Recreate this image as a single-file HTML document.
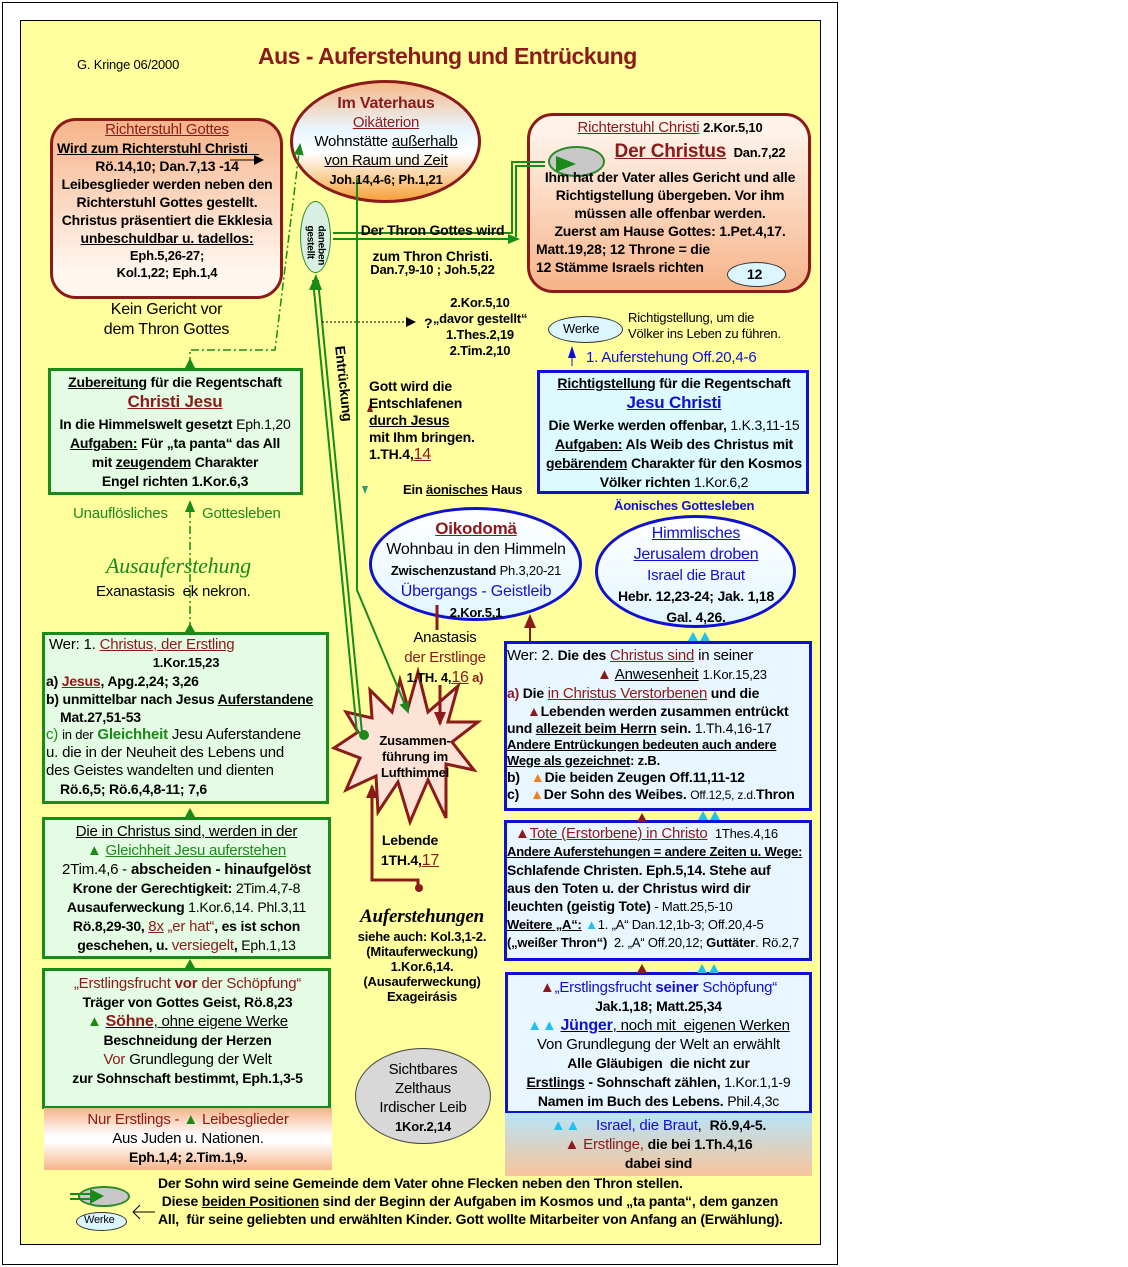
<!DOCTYPE html>
<html><head><meta charset="utf-8"><style>
body{margin:0;width:1128px;height:1267px;background:#fff;position:relative;font-family:"Liberation Sans",sans-serif;font-size:14px;letter-spacing:-0.2px;color:#000;overflow:hidden}
.a{position:absolute}
.c{text-align:center}
.b{font-weight:bold}
.r{color:#8b1a1a}
.bl{color:#1010d0}
.g{color:#1a8a1a}
u{text-decoration:underline}
.box{position:absolute;box-sizing:border-box}
.t{position:absolute;line-height:18px;white-space:nowrap}
</style></head><body>
<div class="a" style="left:2px;top:2px;width:836px;height:1263px;border:1px solid #000;box-sizing:border-box"></div>
<div class="a" style="left:20px;top:20px;width:801px;height:1225px;border:1px solid #000;background:#ffff9e;box-sizing:border-box"></div>

<div class="box" style="left:50px;top:118px;width:233px;height:181px;border:3px solid #8b1a1a;border-radius:26px;background:linear-gradient(#f6b48a,#fff6ee 85%)"></div>
<div class="box" style="left:290px;top:80px;width:191px;height:123px;border:3px solid #8b1a1a;border-radius:50%;background:linear-gradient(#f7b98a,#e8f6ff 40%,#fff 60%,#f6a23a)"></div>
<div class="box" style="left:527px;top:113px;width:284px;height:180px;border:3px solid #8b1a1a;border-radius:26px;background:linear-gradient(#fff2e8 10%,#f6b48a)"></div>
<div class="box" style="left:300px;top:201px;width:31px;height:72px;border:1px solid #2a8a2a;border-radius:50%;background:#d8f0e4"></div>
<div class="box" style="left:48px;top:368px;width:255px;height:127px;border:3px solid #1a8a1a;background:#e4fbe4"></div>
<div class="box" style="left:537px;top:370px;width:272px;height:124px;border:3px solid #1010d0;background:#dcfaff"></div>
<div class="box" style="left:369px;top:507px;width:213px;height:114px;border:3px solid #1010d0;border-radius:50%;background:linear-gradient(#fff,#e2f6ff)"></div>
<div class="box" style="left:595px;top:515px;width:201px;height:113px;border:3px solid #1010d0;border-radius:50%;background:linear-gradient(#fff,#e2f6ff)"></div>
<div class="box" style="left:42px;top:632px;width:287px;height:172px;border:3px solid #1a8a1a;background:#e4fbe4"></div>
<div class="box" style="left:504px;top:641px;width:308px;height:170px;border:3px solid #1010d0;background:#e8f6ff"></div>
<div class="box" style="left:42px;top:817px;width:289px;height:142px;border:3px solid #1a8a1a;background:#e4fbe4"></div>
<div class="box" style="left:504px;top:820px;width:308px;height:141px;border:3px solid #1010d0;background:#e8f6ff"></div>
<div class="box" style="left:42px;top:968px;width:289px;height:141px;border:3px solid #1a8a1a;background:#e4fbe4"></div>
<div class="box" style="left:505px;top:972px;width:307px;height:142px;border:3px solid #1010d0;background:#e8f6ff"></div>
<div class="box" style="left:44px;top:1108px;width:288px;height:62px;background:linear-gradient(#f6b48a,#fff 45%,#fff 55%,#f6b48a)"></div>
<div class="box" style="left:505px;top:1113px;width:307px;height:63px;background:linear-gradient(#b8e4f8,#f6c49a)"></div>
<div class="box" style="left:355px;top:1048px;width:136px;height:96px;border:1px solid #444;border-radius:50%;background:#d8d8d8"></div>
<div class="box" style="left:548px;top:316px;width:75px;height:27px;border:1px solid #333;border-radius:50%;background:#dcf6ff"></div>
<div class="box" style="left:727px;top:262px;width:59px;height:25px;border:1px solid #333;border-radius:50%;background:#dcf6ff"></div>
<div class="box" style="left:548px;top:146px;width:57px;height:31px;border:2px solid #2a8a2a;border-radius:50%;background:#c8c8c8"></div>
<div class="box" style="left:78px;top:1186px;width:52px;height:21px;border:2px solid #2a8a2a;border-radius:50%;background:#c8c8c8"></div>
<div class="box" style="left:76px;top:1212px;width:51px;height:19px;border:1px solid #333;border-radius:50%;background:#dcf6ff"></div>

<svg class="a" style="left:0;top:0" width="1128" height="1267">
<defs>
<marker id="ga" markerUnits="userSpaceOnUse" markerWidth="12" markerHeight="12" refX="10" refY="6" orient="auto"><path d="M0,1L12,6L0,11z" fill="#1a8a1a"/></marker>
<marker id="ka" markerUnits="userSpaceOnUse" markerWidth="10" markerHeight="10" refX="8" refY="5" orient="auto"><path d="M0,0L10,5L0,10z" fill="#000"/></marker>
<marker id="ra" markerUnits="userSpaceOnUse" markerWidth="14" markerHeight="14" refX="12" refY="7" orient="auto"><path d="M0,1L14,7L0,13z" fill="#8b1a1a"/></marker>
</defs>
<polygon points="418,672 428,712 458,686 448,722 478,722 452,742 474,770 446,764 446,818 428,780 410,822 398,782 378,812 376,776 346,790 360,758 334,748 358,732 346,712 372,718 370,690 392,712 400,680 408,708" fill="#fde2d6" stroke="#8b1a1a" stroke-width="3"/>
<polyline points="357,178 357,590 408,712" fill="none" stroke="#1a8a1a" stroke-width="2" marker-end="url(#ga)"/>
<line x1="318" y1="280" x2="362" y2="733" stroke="#1a8a1a" stroke-width="2"/>
<line x1="313" y1="280" x2="357" y2="733" stroke="#1a8a1a" stroke-width="2"/>
<path d="M309,290L316,274L322,290z" fill="#1a8a1a"/>
<circle cx="364" cy="735" r="5" fill="#1a8a1a"/>
<polyline points="333,233 512,233 512,162 545,162" fill="none" stroke="#1a8a1a" stroke-width="2"/>
<polyline points="333,239 518,239" fill="none" stroke="#1a8a1a" stroke-width="2" marker-end="url(#ga)"/>
<polyline points="516,237 516,166 545,166" fill="none" stroke="#1a8a1a" stroke-width="2"/>
<path d="M556,156L576,164L556,172z" fill="#1a8a1a"/>
<line x1="70" y1="1194" x2="92" y2="1194" stroke="#1a8a1a" stroke-width="2"/><line x1="70" y1="1199" x2="92" y2="1199" stroke="#1a8a1a" stroke-width="2"/>
<path d="M90,1189L104,1196L90,1204z" fill="#1a8a1a"/>
<polyline points="190,365 190,350 275,350 300,145" fill="none" stroke="#1a8a1a" stroke-width="1.5" stroke-dasharray="8,3,2,3" marker-end="url(#ga)"/>
<line x1="190" y1="630" x2="190" y2="502" stroke="#1a8a1a" stroke-width="1.5" stroke-dasharray="8,3,2,3" marker-end="url(#ga)"/>
<path d="M185,632L190,623L195,632z M185,968L190,959L195,968z M185,817L190,808L195,817z M185,368L190,358L195,368z" fill="#1a8a1a"/>
<line x1="322" y1="322" x2="414" y2="322" stroke="#000" stroke-width="1" stroke-dasharray="2,2" marker-end="url(#ka)"/>
<line x1="230" y1="160" x2="262" y2="160" stroke="#000" stroke-width="1" marker-end="url(#ka)"/>
<line x1="155" y1="1212" x2="134" y2="1212" stroke="#000" stroke-width="1"/><path d="M140,1205L133,1212L140,1219" fill="none" stroke="#000"/>
<line x1="437" y1="605" x2="437" y2="630" stroke="#8b1a1a" stroke-width="3"/>
<line x1="440" y1="685" x2="440" y2="724" stroke="#8b1a1a" stroke-width="3" marker-end="url(#ra)"/>
<polyline points="418,888 418,880 372,880 372,786" fill="none" stroke="#8b1a1a" stroke-width="3" marker-end="url(#ra)"/>
<circle cx="419" cy="888" r="4" fill="#8b1a1a"/>
<line x1="530" y1="641" x2="530" y2="616" stroke="#8b1a1a" stroke-width="2" marker-end="url(#ra)"/>
<path d="M568,358L572,346L576,358z" fill="#1010d0"/>
<line x1="572" y1="358" x2="572" y2="366" stroke="#1010d0" stroke-width="1"/>
<path d="M362,486L368,486L365,494z" fill="#2a9a7a"/>
<path d="M367,412L373,412L370,404z" fill="#8b1a1a"/>
<g fill="#8b1a1a"><path d="M637,822L642,813L647,822z M637,973L642,964L647,973z"/></g>
<g fill="#20c0f0"><path d="M688,641L693,632L698,641z M700,641L705,632L710,641z M698,820L703,811L708,820z M710,820L715,811L720,820z M697,973L702,964L707,973z M709,973L714,964L719,973z"/></g>
</svg>

<div class="a" style="left:77px;top:57px;font-size:13px">G. Kringe 06/2000</div>
<div class="a b r" style="left:258px;top:43px;font-size:23px;letter-spacing:-0.5px">Aus - Auferstehung und Entrückung</div>

<div class="t c b" style="left:53px;top:121px;width:228px">
<div class="r" style="font-size:15px;font-weight:normal"><u>Richterstuhl Gottes</u></div>
<div style="text-align:left;padding-left:4px"><u>Wird zum Richterstuhl Christi&nbsp;&nbsp;&nbsp;</u></div>
<div>Rö.14,10; Dan.7,13 -14</div>
<div>Leibesglieder werden neben den</div>
<div>Richterstuhl Gottes gestellt.</div>
<div>Christus präsentiert die Ekklesia</div>
<div><u>unbeschuldbar u. tadellos:</u></div>
<div style="font-size:13px;line-height:17px">Eph.5,26-27;<br>Kol.1,22; Eph.1,4</div></div>
<div class="t c" style="left:50px;top:300px;width:233px;font-size:16px;line-height:20px">Kein Gericht vor<br>dem Thron Gottes</div>

<div class="t c" style="left:292px;top:94px;width:188px;line-height:19px">
<div class="b r" style="font-size:16px">Im Vaterhaus</div>
<div class="r" style="font-size:15px"><u>Oikäterion</u></div>
<div style="font-size:15px">Wohnstätte <u>außerhalb</u></div>
<div style="font-size:15px"><u>von Raum und Zeit</u></div>
<div class="b" style="font-size:13px">Joh.14,4-6; Ph.1,21</div></div>
<div class="a b" style="left:300px;top:230px;width:31px;font-size:10px;line-height:11px;text-align:center;transform:rotate(90deg)">daneben<br>gestellt</div>

<div class="t c b" style="left:355px;top:217px;width:155px;line-height:26px">Der Thron Gottes wird<br>zum Thron Christi.</div>
<div class="t c b" style="left:355px;top:261px;width:155px;font-size:13px">Dan.7,9-10 ; Joh.5,22</div>

<div class="t c b" style="left:530px;top:118px;width:280px;line-height:18px">
<div><span class="r" style="font-size:15px;font-weight:normal"><u>Richterstuhl Christi</u></span> <span style="font-size:13px">2.Kor.5,10</span></div>
<div style="padding-left:60px;margin-top:6px"><span class="r" style="font-size:19px"><u>Der Christus</u></span> &nbsp;<span style="font-size:13px">Dan.7,22</span></div>
<div style="margin-top:6px">Ihm hat der Vater alles Gericht und alle</div>
<div>Richtigstellung übergeben. Vor ihm</div>
<div>müssen alle offenbar werden.</div>
<div>Zuerst am Hause Gottes: 1.Pet.4,17.</div>
<div style="text-align:left;padding-left:6px">Matt.19,28; 12 Throne = die</div>
<div style="text-align:left;padding-left:6px">12 Stämme Israels richten</div></div>
<div class="a b" style="left:747px;top:266px">12</div>

<div class="t c b" style="left:420px;top:295px;width:120px;line-height:16px;font-size:13px">2.Kor.5,10<br>„davor gestellt“<br>1.Thes.2,19<br>2.Tim.2,10</div>
<div class="a b" style="left:424px;top:315px">?</div>
<div class="a" style="left:563px;top:321px;font-size:13px">Werke</div>
<div class="t" style="left:628px;top:310px;line-height:16px;font-size:13px">Richtigstellung, um die<br>Völker ins Leben zu führen.</div>
<div class="a bl" style="left:586px;top:349px;font-size:15px">1. Auferstehung Off.20,4-6</div>

<div class="a b" style="left:348px;top:345px;transform:rotate(84deg);transform-origin:0 0;font-size:14px">Entrückung</div>

<div class="t b" style="left:369px;top:378px;line-height:17px">Gott wird die<br>Entschlafenen<br><u>durch Jesus</u><br>mit Ihm bringen.<br>1.TH.4,<u class="r" style="font-size:16px;font-weight:normal">14</u></div>
<div class="a b" style="left:403px;top:482px;font-size:13px">Ein <u>äonisches</u> Haus</div>

<div class="t c b" style="left:50px;top:373px;width:250px;line-height:19px">
<div><u>Zubereitung</u> für die Regentschaft</div>
<div class="r" style="font-size:17px"><u>Christi Jesu</u></div>
<div style="margin-top:4px">In die Himmelswelt gesetzt <span style="font-weight:normal">Eph.1,20</span></div>
<div><u>Aufgaben:</u> Für „ta panta“ das All</div>
<div>mit <u>zeugendem</u> Charakter</div>
<div>Engel richten 1.Kor.6,3</div></div>

<div class="t c b" style="left:540px;top:374px;width:268px;line-height:19px">
<div><u>Richtigstellung</u> für die Regentschaft</div>
<div class="bl" style="font-size:17px"><u>Jesu Christi</u></div>
<div style="margin-top:4px">Die Werke werden offenbar, <span style="font-weight:normal">1.K.3,11-15</span></div>
<div><u>Aufgaben:</u> Als Weib des Christus mit</div>
<div><u>gebärendem</u> Charakter für den Kosmos</div>
<div>Völker richten <span style="font-weight:normal">1.Kor.6,2</span></div></div>
<div class="a b bl" style="left:614px;top:498px;font-size:13px">Äonisches Gottesleben</div>

<div class="a g" style="left:73px;top:505px;font-size:15px">Unauflösliches</div>
<div class="a g" style="left:202px;top:505px;font-size:15px">Gottesleben</div>
<div class="a g" style="left:106px;top:553px;font-size:22px;font-style:italic;font-family:'Liberation Serif',serif">Ausauferstehung</div>
<div class="a" style="left:96px;top:583px;font-size:15px">Exanastasis &nbsp;ek nekron.</div>

<div class="t c" style="left:372px;top:518px;width:208px;line-height:21px">
<div class="b r" style="font-size:17px"><u>Oikodomä</u></div>
<div style="font-size:16px">Wohnbau in den Himmeln</div>
<div class="b" style="font-size:13px">Zwischenzustand <span style="font-weight:normal">Ph.3,20-21</span></div>
<div class="bl" style="font-size:16px">Übergangs - Geistleib</div>
<div class="b" style="font-size:13px">2.Kor.5,1</div></div>

<div class="t c" style="left:597px;top:523px;width:198px;line-height:21px">
<div class="bl" style="font-size:16px"><u>Himmlisches</u></div>
<div class="bl" style="font-size:16px"><u>Jerusalem droben</u></div>
<div class="bl" style="font-size:15px">Israel die Braut</div>
<div class="b">Hebr. 12,23-24; Jak. 1,18</div>
<div class="b">Gal. 4,26.</div></div>

<div class="t c" style="left:380px;top:628px;width:130px;line-height:20px;font-size:15px">Anastasis<br><span class="r">der Erstlinge</span><br><span class="b" style="font-size:13px">1.TH. 4,<u class="r" style="font-size:16px;font-weight:normal">16</u> <span class="r">a)</span></span></div>

<div class="t c b" style="left:370px;top:733px;width:90px;line-height:16px;font-size:13px">Zusammen-<br>führung im<br>Lufthimmel</div>

<div class="t" style="left:46px;top:636px;width:280px;line-height:18px">
<div style="font-size:15px;padding-left:3px">Wer: 1. <span class="r"><u>Christus, der Erstling</u></span></div>
<div class="c b" style="font-size:13px">1.Kor.15,23</div>
<div class="b">a) <span class="r"><u>Jesus</u></span>, Apg.2,24; 3,26</div>
<div class="b">b) unmittelbar nach Jesus <u>Auferstandene</u></div>
<div class="b" style="padding-left:14px">Mat.27,51-53</div>
<div style="font-size:15px"><span class="g">c)</span> <span style="font-size:13px">in der</span> <span class="g b">Gleichheit</span> Jesu Auferstandene</div>
<div style="font-size:15px">u. die in der Neuheit des Lebens und</div>
<div style="font-size:15px">des Geistes wandelten und dienten</div>
<div class="b" style="padding-left:14px">Rö.6,5; Rö.6,4,8-11; 7,6</div></div>

<div class="t" style="left:507px;top:646px;width:302px;line-height:19px">
<div style="font-size:15px">Wer: 2. <span class="b" style="font-size:14px">Die des</span> <span class="r"><u>Christus sind</u></span> in seiner</div>
<div style="padding-left:90px;font-size:15px"><span class="r">▲</span> <u>Anwesenheit</u> <span style="font-size:13px">1.Kor.15,23</span></div>
<div class="b"><span class="r">a)</span> Die <span class="r" style="font-weight:normal;font-size:15px"><u>in Christus Verstorbenen</u></span> und die</div>
<div class="b" style="padding-left:20px;line-height:17px"><span class="r">▲</span>Lebenden werden zusammen entrückt</div>
<div class="b" style="line-height:17px">und <u>allezeit beim Herrn</u> sein. <span style="font-weight:normal">1.Th.4,16-17</span></div>
<div class="b" style="font-size:13px;line-height:16px"><u>Andere Entrückungen bedeuten auch andere</u></div>
<div class="b" style="font-size:13px;line-height:16px"><u>Wege als gezeichnet</u>: z.B.</div>
<div class="b" style="line-height:17px">b) &nbsp;&nbsp;<span style="color:#f08020">▲</span>Die beiden Zeugen Off.11,11-12</div>
<div class="b" style="line-height:17px">c) &nbsp;&nbsp;<span style="color:#f08020">▲</span>Der Sohn des Weibes. <span style="font-weight:normal;font-size:12px">Off.12,5, z.d.</span>Thron</div></div>

<div class="t c" style="left:45px;top:822px;width:283px;line-height:19px">
<div style="font-size:15px"><u>Die in Christus sind, werden in der</u></div>
<div class="g" style="font-size:15px">▲ <u>Gleichheit Jesu auferstehen</u></div>
<div style="font-size:15px">2Tim.4,6 - <b>abscheiden - hinaufgelöst</b></div>
<div class="b">Krone der Gerechtigkeit: <span style="font-weight:normal">2Tim.4,7-8</span></div>
<div class="b">Ausauferweckung <span style="font-weight:normal">1.Kor.6,14. Phl.3,11</span></div>
<div class="b">Rö.8,29-30, <u class="r" style="font-size:15px;font-weight:normal">8x</u> <span class="r" style="font-weight:normal;font-size:15px">„er hat“</span>, es ist schon</div>
<div class="b">geschehen, u. <span class="r" style="font-weight:normal;font-size:15px">versiegelt</span>, <span style="font-weight:normal">Eph.1,13</span></div></div>

<div class="t" style="left:507px;top:824px;width:303px;line-height:18px">
<div style="padding-left:8px"><span class="r" style="font-size:15px">▲<u>Tote (Erstorbene) in Christo</u></span> &nbsp;<span style="font-size:13px">1Thes.4,16</span></div>
<div class="b" style="font-size:13px"><u>Andere Auferstehungen = andere Zeiten u. Wege:</u></div>
<div class="b">Schlafende Christen. Eph.5,14. Stehe auf</div>
<div class="b">aus den Toten u. der Christus wird dir</div>
<div class="b">leuchten (geistig Tote) <span style="font-weight:normal;font-size:13px">- Matt.25,5-10</span></div>
<div style="font-size:13px"><b><u>Weitere „A“:</u></b> <span style="color:#20c0f0">▲</span>1. „A“ Dan.12,1b-3; Off.20,4-5</div>
<div style="font-size:13px"><b>(„weißer Thron“)</b> &nbsp;2. „A“ Off.20,12; <b>Guttäter</b>. Rö.2,7</div></div>

<div class="t c" style="left:45px;top:974px;width:285px;line-height:19px">
<div class="r" style="font-size:15px">„Erstlingsfrucht <b>vor</b> der Schöpfung“</div>
<div class="b">Träger von Gottes Geist, Rö.8,23</div>
<div style="font-size:15px"><span class="g">▲</span> <u><b class="r" style="font-size:16px">Söhne</b>, ohne eigene Werke</u></div>
<div class="b">Beschneidung der Herzen</div>
<div style="font-size:15px"><span class="r">Vor</span> Grundlegung der Welt</div>
<div class="b">zur Sohnschaft bestimmt, Eph.1,3-5</div></div>

<div class="t c" style="left:44px;top:1110px;width:288px;line-height:19px">
<div class="r" style="font-size:15px">Nur Erstlings - <span class="g">▲</span> Leibesglieder</div>
<div style="font-size:15px">Aus Juden u. Nationen.</div>
<div class="b">Eph.1,4; 2.Tim.1,9.</div></div>

<div class="t c" style="left:350px;top:905px;width:144px;line-height:15px">
<div style="font-size:19px;font-style:italic;font-family:'Liberation Serif',serif;line-height:24px;font-weight:bold">Auferstehungen</div>
<div class="b" style="font-size:13px">siehe auch: Kol.3,1-2.<br>(Mitauferweckung)<br>1.Kor.6,14.<br>(Ausauferweckung)<br>Exageirásis</div></div>
<div class="t c" style="left:355px;top:1060px;width:136px;line-height:19px;font-size:15px">Sichtbares<br>Zelthaus<br>Irdischer Leib<br><span class="b" style="font-size:13px">1Kor.2,14</span></div>
<div class="t c b" style="left:365px;top:830px;width:90px;line-height:20px">Lebende<br>1TH.4,<u class="r" style="font-size:16px;font-weight:normal">17</u></div>

<div class="t c" style="left:507px;top:978px;width:303px;line-height:19px">
<div class="bl" style="font-size:15px"><span class="r">▲</span>„Erstlingsfrucht <b>seiner</b> Schöpfung“</div>
<div class="b">Jak.1,18; Matt.25,34</div>
<div style="font-size:15px"><span style="color:#20c0f0">▲▲</span> <u><b class="bl" style="font-size:16px">Jünger</b>, noch mit &nbsp;eigenen Werken</u></div>
<div style="font-size:15px">Von Grundlegung der Welt an erwählt</div>
<div class="b">Alle Gläubigen &nbsp;die nicht zur</div>
<div class="b"><u>Erstlings</u> - Sohnschaft zählen, <span style="font-weight:normal">1.Kor.1,1-9</span></div>
<div class="b">Namen im Buch des Lebens. <span style="font-weight:normal">Phil.4,3c</span></div></div>

<div class="t c" style="left:505px;top:1116px;width:307px;line-height:19px">
<div style="font-size:15px"><span style="color:#20c0f0">▲▲</span> &nbsp;&nbsp;&nbsp;<span class="bl">Israel, die Braut</span>, &nbsp;<b style="font-size:14px">Rö.9,4-5.</b></div>
<div style="font-size:15px"><span class="r">▲</span> <span class="r">Erstlinge,</span> <b style="font-size:14px">die bei 1.Th.4,16</b></div>
<div class="b">dabei sind</div></div>

<div class="a" style="left:84px;top:1214px;font-size:11px">Werke</div>
<div class="t b" style="left:158px;top:1174px;line-height:18px">Der Sohn wird seine Gemeinde dem Vater ohne Flecken neben den Thron stellen.<br>&nbsp;Diese <u>beiden Positionen</u> sind der Beginn der Aufgaben im Kosmos und „ta panta“, dem ganzen<br>All, &nbsp;für seine geliebten und erwählten Kinder. Gott wollte Mitarbeiter von Anfang an (Erwählung).</div>
</body></html>
